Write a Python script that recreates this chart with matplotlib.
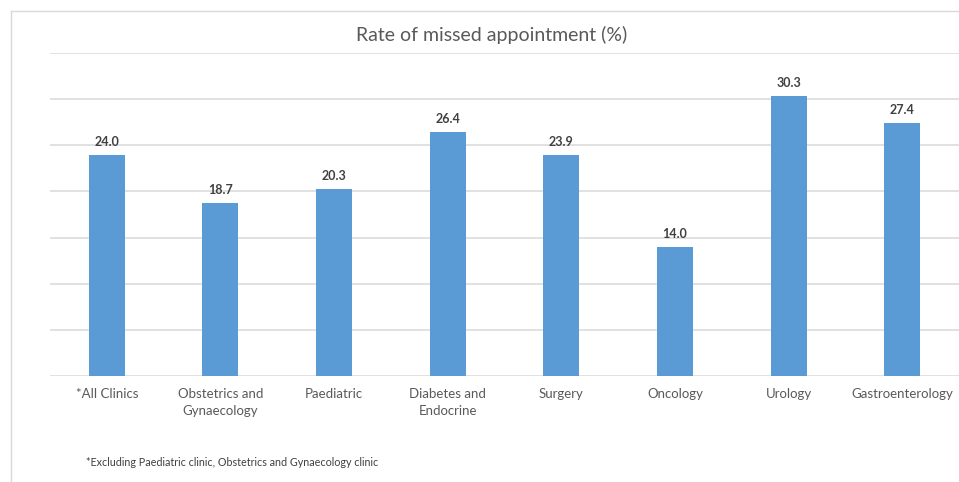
import matplotlib
matplotlib.use("Agg")
import matplotlib.pyplot as plt
from matplotlib.lines import Line2D

plt.rcParams['font.family'] = ['Lato', 'DejaVu Sans']

categories = ["*All Clinics", "Obstetrics and\nGynaecology", "Paediatric",
              "Diabetes and\nEndocrine", "Surgery", "Oncology", "Urology",
              "Gastroenterology"]
rates = [24.0, 18.7, 20.3, 26.4, 23.9, 14.0, 30.3, 27.4]
y_ticks = [0, 5, 10, 15, 20, 25, 30, 35]

title = "Rate of missed appointment (%)"
footnote = "*Excluding Paediatric clinic, Obstetrics and Gynaecology clinic"

W, H = 959, 482
fig = plt.figure(figsize=(W / 100, H / 100), dpi=100)
fig.patch.set_facecolor("white")

ax = fig.add_axes([50 / W, 1 - 376 / H, 1 - 50 / W, (376 - 53) / H])
x = list(range(len(categories)))
bars = ax.bar(x, rates, width=0.317, color="#5B9BD5", zorder=3)

ax.set_xlim(-0.5, len(categories) - 0.5)
ax.set_ylim(y_ticks[0], y_ticks[-1])
ax.set_yticks(y_ticks)
ax.yaxis.grid(True, color="#DEDEDE", linewidth=1.3, zorder=0)
ax.tick_params(axis="y", left=False, labelleft=False)
ax.tick_params(axis="x", bottom=False, pad=5)
for s in ax.spines.values():
    s.set_visible(False)
ax.set_xticks(x)
ax.set_xticklabels(categories, fontsize=9.5, color="#595959", linespacing=1.55)

for rect, v in zip(bars, rates):
    ax.annotate(f"{v:.1f}", (rect.get_x() + rect.get_width() / 2, v),
                xytext=(0, 5), textcoords="offset points", ha="center",
                va="bottom", fontsize=9, fontweight="bold", color="#404040")

fig.text(492 / W, 1 - 35 / H, title, ha="center", va="center",
         fontsize=14, color="#595959")
fig.text(86 / W, 1 - 462 / H, footnote, ha="left", va="center",
         fontsize=7.75, color="#404040")

# outer chart frame
fig.add_artist(Line2D([11 / W, 1], [1 - 11 / H, 1 - 11 / H],
                      transform=fig.transFigure, color="#D9D9D9", linewidth=1))
fig.add_artist(Line2D([11 / W, 11 / W], [0, 1 - 11 / H],
                      transform=fig.transFigure, color="#D9D9D9", linewidth=1))

fig.savefig("out.png", dpi=100)
